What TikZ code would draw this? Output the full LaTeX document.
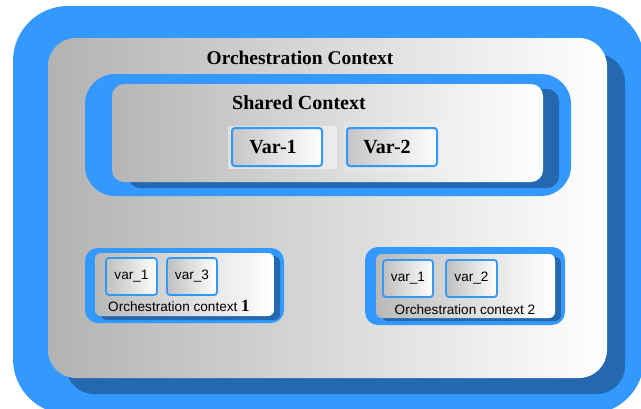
\documentclass[tikz,border=0pt]{standalone}
\usepackage{fontspec}
\setmainfont{Liberation Serif}
\newfontfamily\arialf{Liberation Sans}
\definecolor{lblue}{HTML}{3399FF}
\definecolor{dblue}{HTML}{2468B0}
\begin{document}
\begin{tikzpicture}[x=1pt,y=-1pt,
  panel/.style={left color=#1, right color=white, draw=none},
  varbig/.style={rounded corners=3pt, draw=lblue, line width=2pt, left color=gray!45, right color=white},
  varsmall/.style={rounded corners=3pt, draw=lblue, line width=1.8pt, left color=gray!50, right color=white},
  bigtxt/.style={font=\fontsize{20}{23}\selectfont\bfseries, inner sep=0pt},
  smalltxt/.style={font=\arialf\fontsize{13.6}{15}\selectfont, inner sep=0pt},
]
\useasboundingbox (0,0) rectangle (641,408);
\fill[white] (0,0) rectangle (641,408);
% outer context
\fill[lblue, rounded corners=55pt] (13,6) rectangle (644,414);
\fill[dblue, rounded corners=28pt] (66,54) rectangle (625,394);
\shade[panel=gray!60, rounded corners=28pt] (48,38) rectangle (607,378);
\node[bigtxt, font=\fontsize{19.4}{22}\selectfont\bfseries] (title) at (300,58) {Orchestration Context};
% shared context
\fill[lblue, rounded corners=30pt] (85,74) rectangle (571,196);
\fill[dblue, rounded corners=12pt] (128,89) rectangle (559,188);
\shade[panel=gray!58, rounded corners=12pt] (112,84) rectangle (543,182);
\node[bigtxt] (shared) at (299,103) {Shared Context};
\fill[white, opacity=0.45] (228,126) rectangle (337,169);
\fill[white, opacity=0.15] (344,122) rectangle (450,173);
\shade[varbig] (232,128) rectangle (322,166);
\shade[varbig] (347,128) rectangle (437,166);
\node[bigtxt] (v1) at (273,147) {Var-1};
\node[bigtxt] (v2) at (387,147) {Var-2};
% orchestration context 1
\fill[lblue, rounded corners=13pt] (85,248) rectangle (284,323);
\fill[dblue, rounded corners=6pt] (101,256) rectangle (280,320);
\shade[panel=gray!55, rounded corners=6pt] (95,253) rectangle (274,316);
\shade[varsmall] (106,258) rectangle (157,295);
\shade[varsmall] (167,258) rectangle (217,295);
\node[smalltxt] (a1) at (131.5,276.5) {var\_1};
\node[smalltxt] (a3) at (192,276.5) {var\_3};
\node[smalltxt, anchor=base west] (l1) at (108,311) {Orchestration context {\rmfamily\bfseries\fontsize{17}{19}\selectfont 1}};
% orchestration context 2
\fill[lblue, rounded corners=13pt] (365,247) rectangle (565,325);
\fill[dblue, rounded corners=6pt] (382,257) rectangle (561,321);
\shade[panel=gray!55, rounded corners=6pt] (376,254) rectangle (555,318);
\shade[varsmall] (383,260) rectangle (433,297);
\shade[varsmall] (446,260) rectangle (497,297);
\node[smalltxt] (b1) at (408,278.5) {var\_1};
\node[smalltxt] (b2) at (471.5,278.5) {var\_2};
\node[smalltxt] (l2) at (465,310) {Orchestration context 2};
\end{tikzpicture}
\end{document}
